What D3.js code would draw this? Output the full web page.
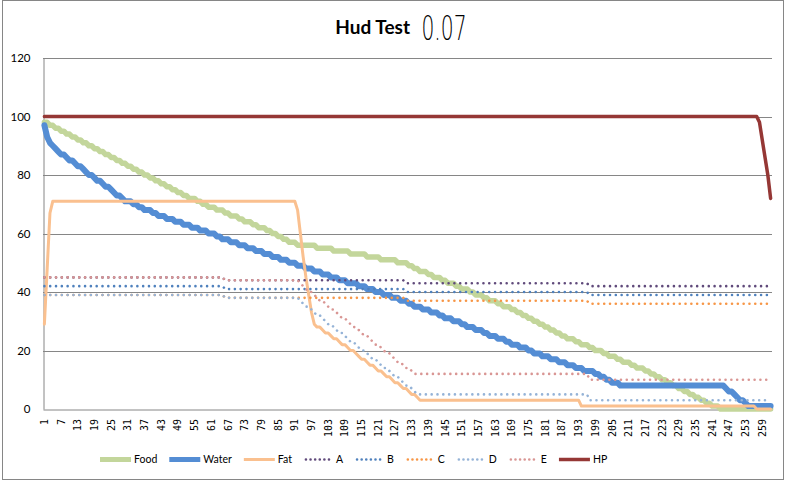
<!DOCTYPE html>
<html><head><meta charset="utf-8">
<script src="https://cdn.jsdelivr.net/npm/d3@7"></script>
<style>body{margin:0;background:#fff}</style>
</head><body>
<svg id="chart" width="789" height="482"></svg>
<script>
const titleMain = "Hud Test";
const titleVersion = "0.07";
const categories = d3.range(1, 263);
const xTickLabels = [1,7,13,19,25,31,37,43,49,55,61,67,73,79,85,91,97,103,109,115,121,127,133,139,145,151,157,163,169,175,181,187,193,199,205,211,217,223,229,235,241,247,253,259];
const yTicks = [0,20,40,60,80,100,120];
const seriesNames = ["Food","Water","Fat","A","B","C","D","E","HP"];

const food = [
98,98,97,97,96,96,95,95,94,94,
93,93,92,92,91,91,90,90,89,89,
88,88,87,87,86,86,85,85,84,84,
83,83,82,82,81,81,80,80,79,79,
78,78,77,77,76,76,75,75,74,74,
73,73,72,72,72,71,71,70,70,69,
69,69,68,68,68,67,67,66,66,66,
65,65,64,64,64,63,63,62,62,62,
61,61,60,60,59,59,58,58,57,57,
57,56,56,56,56,56,56,56,55,55,
55,55,55,55,54,54,54,54,54,54,
53,53,53,53,53,53,52,52,52,52,
52,51,51,51,51,51,51,50,50,50,
50,49,49,48,48,47,47,47,46,46,
45,45,45,44,44,43,43,43,42,42,
41,41,41,40,40,39,39,39,38,38,
37,37,37,36,36,35,35,35,34,34,
33,33,32,32,31,31,30,30,29,29,
28,28,27,27,26,26,25,25,24,24,
24,23,23,22,22,22,21,21,20,20,
20,19,19,18,18,18,17,17,16,16,
16,15,15,14,14,14,13,13,12,12,
11,11,10,10,9,9,8,8,7,7,
6,6,5,5,4,4,3,3,2,2,
1,1,1,0,0,0,0,0,0,0,
0,0,0,0,0,0,0,0,0,0,
0,0];

const water = [
97,93,91,90,89,88,87,87,86,85,
85,84,83,83,82,81,80,80,79,78,
78,77,76,76,75,74,73,73,72,71,
71,71,70,70,69,69,68,68,68,67,
67,66,66,66,65,65,65,64,64,64,
63,63,63,62,62,62,61,61,61,60,
60,60,59,59,58,58,58,57,57,57,
56,56,56,55,55,55,54,54,54,53,
53,53,52,52,52,51,51,51,50,50,
50,49,49,49,48,48,48,47,47,47,
46,46,46,45,45,45,44,44,44,43,
43,43,43,42,42,42,41,41,41,40,
40,40,39,39,39,38,38,38,37,37,
37,36,36,35,35,35,34,34,34,33,
33,33,32,32,31,31,31,30,30,30,
29,29,28,28,28,27,27,27,26,26,
25,25,25,24,24,24,23,23,22,22,
22,21,21,21,20,20,19,19,19,18,
18,18,17,17,17,16,16,16,15,15,
15,14,14,14,13,13,13,13,12,12,
11,11,10,10,9,9,9,8,8,8,
8,8,8,8,8,8,8,8,8,8,
8,8,8,8,8,8,8,8,8,8,
8,8,8,8,8,8,8,8,8,8,
8,8,8,8,8,7,6,6,5,4,
3,3,2,1,1,1,1,1,1,1,
1,1];

const fat = [
29,48,67,71,71,71,71,71,71,71,
71,71,71,71,71,71,71,71,71,71,
71,71,71,71,71,71,71,71,71,71,
71,71,71,71,71,71,71,71,71,71,
71,71,71,71,71,71,71,71,71,71,
71,71,71,71,71,71,71,71,71,71,
71,71,71,71,71,71,71,71,71,71,
71,71,71,71,71,71,71,71,71,71,
71,71,71,71,71,71,71,71,71,71,
71,68,60,52,45,39,33,29,28,28,
27,26,26,25,24,24,23,22,22,21,
20,20,19,18,17,17,16,15,15,14,
13,13,12,11,11,10,9,9,8,7,
7,6,5,5,4,3,3,3,3,3,
3,3,3,3,3,3,3,3,3,3,
3,3,3,3,3,3,3,3,3,3,
3,3,3,3,3,3,3,3,3,3,
3,3,3,3,3,3,3,3,3,3,
3,3,3,3,3,3,3,3,3,3,
3,3,3,1,1,1,1,1,1,1,
1,1,1,1,1,1,1,1,1,1,
1,1,1,1,1,1,1,1,1,1,
1,1,1,1,1,1,1,1,1,1,
1,1,1,1,1,1,1,1,1,1,
1,1,1,1,1,1,1,1,1,1,
1,1,1,1,1,1,0,0,0,0,
0,0];

const seriesA = [
45,45,45,45,45,45,45,45,45,45,
45,45,45,45,45,45,45,45,45,45,
45,45,45,45,45,45,45,45,45,45,
45,45,45,45,45,45,45,45,45,45,
45,45,45,45,45,45,45,45,45,45,
45,45,45,45,45,45,45,45,45,45,
45,45,45,45,45,44,44,44,44,44,
44,44,44,44,44,44,44,44,44,44,
44,44,44,44,44,44,44,44,44,44,
44,44,44,44,44,44,44,44,44,44,
44,44,44,44,44,44,44,44,44,44,
44,44,44,44,44,44,44,44,44,44,
44,44,44,44,44,44,44,44,44,44,
43,43,43,43,43,43,43,43,43,43,
43,43,43,43,43,43,43,43,43,43,
43,43,43,43,43,43,43,43,43,43,
43,43,43,43,43,43,43,43,43,43,
43,43,43,43,43,43,43,43,43,43,
43,43,43,43,43,43,43,43,43,43,
43,43,43,43,43,43,42,42,42,42,
42,42,42,42,42,42,42,42,42,42,
42,42,42,42,42,42,42,42,42,42,
42,42,42,42,42,42,42,42,42,42,
42,42,42,42,42,42,42,42,42,42,
42,42,42,42,42,42,42,42,42,42,
42,42,42,42,42,42,42,42,42,42,
42,42];

const seriesB = [
42,42,42,42,42,42,42,42,42,42,
42,42,42,42,42,42,42,42,42,42,
42,42,42,42,42,42,42,42,42,42,
42,42,42,42,42,42,42,42,42,42,
42,42,42,42,42,42,42,42,42,42,
42,42,42,42,42,42,42,42,42,42,
42,42,42,42,42,41,41,41,41,41,
41,41,41,41,41,41,41,41,41,41,
41,41,41,41,41,41,41,41,41,41,
41,41,41,41,41,41,41,41,41,41,
41,41,41,41,41,41,41,41,41,41,
41,41,41,41,41,41,41,41,41,41,
41,41,41,41,41,41,41,41,41,41,
40,40,40,40,40,40,40,40,40,40,
40,40,40,40,40,40,40,40,40,40,
40,40,40,40,40,40,40,40,40,40,
40,40,40,40,40,40,40,40,40,40,
40,40,40,40,40,40,40,40,40,40,
40,40,40,40,40,40,40,40,40,40,
40,40,40,40,40,40,39,39,39,39,
39,39,39,39,39,39,39,39,39,39,
39,39,39,39,39,39,39,39,39,39,
39,39,39,39,39,39,39,39,39,39,
39,39,39,39,39,39,39,39,39,39,
39,39,39,39,39,39,39,39,39,39,
39,39,39,39,39,39,39,39,39,39,
39,39];

const seriesC = [
39,39,39,39,39,39,39,39,39,39,
39,39,39,39,39,39,39,39,39,39,
39,39,39,39,39,39,39,39,39,39,
39,39,39,39,39,39,39,39,39,39,
39,39,39,39,39,39,39,39,39,39,
39,39,39,39,39,39,39,39,39,39,
39,39,39,39,39,38,38,38,38,38,
38,38,38,38,38,38,38,38,38,38,
38,38,38,38,38,38,38,38,38,38,
38,38,38,38,38,38,38,38,38,38,
38,38,38,38,38,38,38,38,38,38,
38,38,38,38,38,38,38,38,38,38,
38,38,38,38,38,38,38,38,38,38,
37,37,37,37,37,37,37,37,37,37,
37,37,37,37,37,37,37,37,37,37,
37,37,37,37,37,37,37,37,37,37,
37,37,37,37,37,37,37,37,37,37,
37,37,37,37,37,37,37,37,37,37,
37,37,37,37,37,37,37,37,37,37,
37,37,37,37,37,37,36,36,36,36,
36,36,36,36,36,36,36,36,36,36,
36,36,36,36,36,36,36,36,36,36,
36,36,36,36,36,36,36,36,36,36,
36,36,36,36,36,36,36,36,36,36,
36,36,36,36,36,36,36,36,36,36,
36,36,36,36,36,36,36,36,36,36,
36,36];

const seriesD = [
39,39,39,39,39,39,39,39,39,39,
39,39,39,39,39,39,39,39,39,39,
39,39,39,39,39,39,39,39,39,39,
39,39,39,39,39,39,39,39,39,39,
39,39,39,39,39,39,39,39,39,39,
39,39,39,39,39,39,39,39,39,39,
39,39,39,39,39,38,38,38,38,38,
38,38,38,38,38,38,38,38,38,38,
38,38,38,38,38,38,38,38,38,38,
38,38,37,36,35,35,34,33,32,32,
31,30,29,29,28,27,26,26,25,24,
23,23,22,21,20,20,19,18,17,17,
16,15,14,14,13,12,11,11,10,9,
8,8,7,6,5,5,5,5,5,5,
5,5,5,5,5,5,5,5,5,5,
5,5,5,5,5,5,5,5,5,5,
5,5,5,5,5,5,5,5,5,5,
5,5,5,5,5,5,5,5,5,5,
5,5,5,5,5,5,5,5,5,5,
5,5,5,5,5,5,3,3,3,3,
3,3,3,3,3,3,3,3,3,3,
3,3,3,3,3,3,3,3,3,3,
3,3,3,3,3,3,3,3,3,3,
3,3,3,3,3,3,3,3,3,3,
3,3,3,3,3,3,3,3,3,3,
3,3,3,3,3,3,3,3,3,3,
3,3];

const seriesE = [
45,45,45,45,45,45,45,45,45,45,
45,45,45,45,45,45,45,45,45,45,
45,45,45,45,45,45,45,45,45,45,
45,45,45,45,45,45,45,45,45,45,
45,45,45,45,45,45,45,45,45,45,
45,45,45,45,45,45,45,45,45,45,
45,45,45,45,45,44,44,44,44,44,
44,44,44,44,44,44,44,44,44,44,
44,44,44,44,44,44,44,44,44,44,
44,44,43,42,41,40,40,39,38,37,
37,36,35,34,34,33,32,31,31,30,
29,28,28,27,26,25,25,24,23,22,
22,21,20,19,19,18,17,16,16,15,
14,14,13,12,12,12,12,12,12,12,
12,12,12,12,12,12,12,12,12,12,
12,12,12,12,12,12,12,12,12,12,
12,12,12,12,12,12,12,12,12,12,
12,12,12,12,12,12,12,12,12,12,
12,12,12,12,12,12,12,12,12,12,
12,12,12,12,12,12,10,10,10,10,
10,10,10,10,10,10,10,10,10,10,
10,10,10,10,10,10,10,10,10,10,
10,10,10,10,10,10,10,10,10,10,
10,10,10,10,10,10,10,10,10,10,
10,10,10,10,10,10,10,10,10,10,
10,10,10,10,10,10,10,10,10,10,
10,10];

const hp = [
100,100,100,100,100,100,100,100,100,100,
100,100,100,100,100,100,100,100,100,100,
100,100,100,100,100,100,100,100,100,100,
100,100,100,100,100,100,100,100,100,100,
100,100,100,100,100,100,100,100,100,100,
100,100,100,100,100,100,100,100,100,100,
100,100,100,100,100,100,100,100,100,100,
100,100,100,100,100,100,100,100,100,100,
100,100,100,100,100,100,100,100,100,100,
100,100,100,100,100,100,100,100,100,100,
100,100,100,100,100,100,100,100,100,100,
100,100,100,100,100,100,100,100,100,100,
100,100,100,100,100,100,100,100,100,100,
100,100,100,100,100,100,100,100,100,100,
100,100,100,100,100,100,100,100,100,100,
100,100,100,100,100,100,100,100,100,100,
100,100,100,100,100,100,100,100,100,100,
100,100,100,100,100,100,100,100,100,100,
100,100,100,100,100,100,100,100,100,100,
100,100,100,100,100,100,100,100,100,100,
100,100,100,100,100,100,100,100,100,100,
100,100,100,100,100,100,100,100,100,100,
100,100,100,100,100,100,100,100,100,100,
100,100,100,100,100,100,100,100,100,100,
100,100,100,100,100,100,100,100,100,100,
100,100,100,100,100,100,100,98,92,86,
80,72];

const seriesValues = [food, water, fat, seriesA, seriesB, seriesC, seriesD, seriesE, hp];

// ---- styles & layout ----
const styles = {
  Food:  {color:"#C3D69B", width:5.5, dash:null},
  Water: {color:"#548DD4", width:6,   dash:null},
  Fat:   {color:"#FAC08F", width:3,   dash:null},
  A:     {color:"#604A7B", width:2.6, dash:"0.01,5.8"},
  B:     {color:"#4F81BD", width:2.6, dash:"0.01,5.8"},
  C:     {color:"#F79646", width:2.6, dash:"0.01,5.8"},
  D:     {color:"#95B3D7", width:2.6, dash:"0.01,5.8"},
  E:     {color:"#D99694", width:2.6, dash:"0.01,5.8"},
  HP:    {color:"#953735", width:3.5, dash:null}
};
const W = 789, H = 482;
const plot = {left:43, right:772, top:58, bottom:409};
const gridColor = "#868686";

const svg = d3.select("#chart");
svg.append("rect").attr("width", W).attr("height", H).attr("fill", "#fff");
svg.append("rect").attr("x", 2.5).attr("y", 0.5).attr("width", 781).attr("height", 479)
  .attr("fill", "none").attr("stroke", gridColor);

const x = d3.scaleBand().domain(categories).range([plot.left, plot.right]).padding(0);
const y = d3.scaleLinear().domain([0, 120]).range([plot.bottom, plot.top]);
const cx = c => x(c) + x.bandwidth() / 2;

// gridlines
svg.append("g").selectAll("line").data(yTicks.filter(d => d > 0)).join("line")
  .attr("x1", plot.left).attr("x2", plot.right)
  .attr("y1", d => Math.round(y(d)) + 0.5).attr("y2", d => Math.round(y(d)) + 0.5)
  .attr("stroke", gridColor).attr("stroke-width", 1);

// y axis
const yAxis = svg.append("g").attr("transform", `translate(${plot.left + 0.5},0)`)
  .call(d3.axisLeft(y).tickValues(yTicks).tickSize(0).tickSizeOuter(0).tickPadding(13));
yAxis.select(".domain").attr("stroke", gridColor);
yAxis.selectAll("text").attr("font-family", "Lato, 'Open Sans', sans-serif")
  .attr("font-size", 11.5).attr("fill", "#000");

// x axis
const xAxis = svg.append("g").attr("transform", `translate(0,${plot.bottom + 0.5})`)
  .call(d3.axisBottom(x).tickValues(xTickLabels).tickSize(0).tickSizeOuter(0));
xAxis.select(".domain").attr("stroke", gridColor);
xAxis.selectAll("text")
  .attr("transform", "rotate(-90)")
  .attr("text-anchor", "end")
  .attr("x", -9.5).attr("y", 0).attr("dy", "0.35em")
  .attr("font-family", "'DejaVu Sans Mono', monospace")
  .attr("font-size", 10).attr("fill", "#000");

// series lines
const line = d3.line().x((d, i) => cx(categories[i])).y(d => y(d));
const gLines = svg.append("g");
seriesNames.forEach((name, k) => {
  const s = styles[name];
  const p = gLines.append("path").datum(seriesValues[k])
    .attr("d", line).attr("fill", "none")
    .attr("stroke", s.color).attr("stroke-width", s.width)
    .attr("stroke-linejoin", "round").attr("stroke-linecap", "round");
  if (s.dash) p.attr("stroke-dasharray", s.dash);
});

// legend
const legend = svg.append("g");
let lx = 100;
const ly = 459.5;
seriesNames.forEach(name => {
  const s = styles[name];
  const l = legend.append("line").attr("x1", lx).attr("x2", lx + 31)
    .attr("y1", ly).attr("y2", ly).attr("stroke", s.color)
    .attr("stroke-width", Math.min(s.width, 5));
  if (s.dash) l.attr("stroke-dasharray", "0.01,4.6").attr("stroke-linecap", "round").attr("x1", lx + 2).attr("x2", lx + 27);
  const t = legend.append("text").attr("x", lx + (s.dash ? 32 : 34)).attr("y", ly).attr("dy", "0.35em")
    .attr("font-family", "Lato, 'Open Sans', sans-serif").attr("font-size", 10.5)
    .attr("fill", "#000").text(name);
  lx += (s.dash ? 32 : 34) + t.node().getComputedTextLength() + 12;
});

// title
svg.append("text").attr("x", 410).attr("y", 34).attr("text-anchor", "end")
  .attr("font-family", "Lato, sans-serif").attr("font-weight", "bold")
  .attr("font-size", 19).attr("fill", "#000").text(titleMain);
svg.append("text").attr("x", 421.5).attr("y", 40)
  .attr("font-family", "'DejaVu Sans', sans-serif").attr("font-weight", 200).attr("font-size", 34)
  .attr("textLength", 45).attr("lengthAdjust", "spacingAndGlyphs")
  .attr("fill", "#000").text(titleVersion);
</script>
</body></html>
